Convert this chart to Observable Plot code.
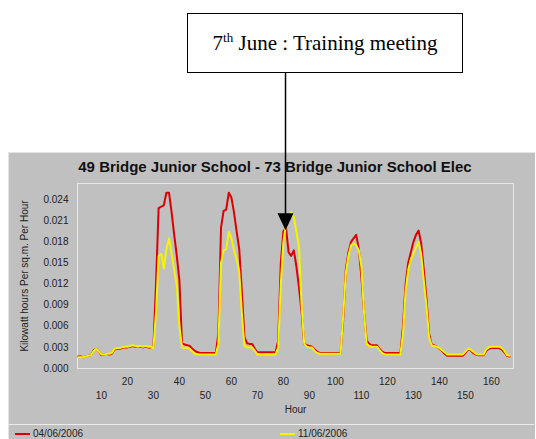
<!DOCTYPE html>
<html><head><meta charset="utf-8">
<script src="https://cdn.jsdelivr.net/npm/d3@7"></script>
<script src="https://cdn.jsdelivr.net/npm/@observablehq/plot@0.6"></script>
<style>
html,body{margin:0;padding:0;background:#fff;}
#wrap{position:relative;width:536px;height:439px;overflow:hidden;font-family:"Liberation Sans",Arial,sans-serif;}
#panel{position:absolute;left:8px;top:152px;width:526px;height:290px;background:#c0c0c0;border-top:1px solid #e4e4e4;border-left:1px solid #e4e4e4;}
#legsep{position:absolute;left:8px;top:424px;width:526px;height:1px;background:#ececec;}
#title{position:absolute;left:8px;width:534px;top:158px;text-align:center;font-size:15px;font-weight:bold;color:#111;}
#note{position:absolute;left:187px;top:13px;width:274px;height:58px;border:1.5px solid #000;background:#fff;font-family:"Liberation Serif","Times New Roman",serif;font-size:21px;line-height:58px;text-align:center;color:#000;}
#note sup{font-size:13px;vertical-align:0.6em;line-height:0;}
.leg{position:absolute;top:428px;font-size:10px;color:#222;}
.sw{position:absolute;top:433px;width:15px;height:2px;}
#chart{position:absolute;left:0;top:0;}
#over{position:absolute;left:0;top:0;pointer-events:none;}
</style></head>
<body>
<div id="wrap">
  <div id="panel"></div>
  <div id="legsep"></div>
  <div id="title"></div>
  <div id="note">7<sup>th</sup> June : Training meeting</div>
  <div id="chart"></div>
  <div class="sw" style="left:15px;background:#dd0000"></div>
  <div class="leg" style="left:33px" id="leg1"></div>
  <div class="sw" style="left:280px;background:#f4f400"></div>
  <div class="leg" style="left:298px" id="leg2"></div>
  <svg id="over" width="536" height="439"></svg>
</div>
<script>
const titleText = "49 Bridge Junior School - 73 Bridge Junior School Elec";
const yLabel = "Kilowatt hours Per sq.m. Per Hour";
const xLabel = "Hour";
const seriesNames = ["04/06/2006", "11/06/2006"];
const seriesColors = ["#dd0000", "#f4f400"];
const yTicks = [0, 0.003, 0.006, 0.009, 0.012, 0.015, 0.018, 0.021, 0.024];
const xTicksEven = [20, 40, 60, 80, 100, 120, 140, 160];
const xTicksOdd = [10, 30, 50, 70, 90, 110, 130, 150];
const noteHour = 81;
const noteValue = 0.0196;

const hours = [1,2,3,4,5,6,7,8,9,10,11,12,13,14,15,16,17,18,19,20,21,22,23,24,25,26,27,28,29,30,
31,32,33,34,35,36,37,38,39,40,41,42,43,44,45,46,47,48,54,
55,56,57,58,59,60,61,62,63,64,65,66,67,68,69,70,77,
78,79,80,81,82,83,84,85,86,87,88,89,90,91,92,93,94,102,
103,104,105,106,107,108,109,110,111,112,113,114,116,117,118,119,125,
126,127,128,129,130,131,132,133,134,135,136,137,138,139,140,141,142,143,149,
150,151,152,153,154,155,157,158,159,160,163,164,165,166,167];

const red = [0.0017,0.0017,0.0016,0.0017,0.0018,0.0019,0.0026,0.0028,0.0024,0.0019,0.0020,0.0021,0.0020,0.0021,0.0027,0.0028,0.0028,0.0029,0.0030,0.0030,0.0031,0.0032,0.0031,0.0032,0.0031,0.0030,0.0031,0.0030,0.0030,0.0031,
0.0120,0.0228,0.0230,0.0232,0.0250,0.0250,0.0222,0.0190,0.0160,0.0125,0.0036,0.0034,0.0033,0.0032,0.0028,0.0025,0.0023,0.0022,0.0022,
0.0050,0.0200,0.0224,0.0226,0.0250,0.0243,0.0222,0.0195,0.0170,0.0110,0.0045,0.0036,0.0035,0.0035,0.0028,0.0023,0.0023,
0.0040,0.0150,0.0195,0.0200,0.0165,0.0160,0.0168,0.0145,0.0115,0.0080,0.0035,0.0033,0.0032,0.0031,0.0027,0.0024,0.0022,0.0022,
0.0070,0.0140,0.0165,0.0180,0.0185,0.0190,0.0170,0.0130,0.0080,0.0040,0.0035,0.0033,0.0033,0.0028,0.0024,0.0022,0.0022,
0.0060,0.0120,0.0150,0.0165,0.0180,0.0190,0.0196,0.0178,0.0140,0.0100,0.0050,0.0034,0.0033,0.0031,0.0028,0.0025,0.0021,0.0018,0.0018,
0.0022,0.0027,0.0026,0.0022,0.0020,0.0019,0.0019,0.0025,0.0028,0.0029,0.0029,0.0027,0.0023,0.0018,0.0017];

const yellow = [0.0016,0.0016,0.0016,0.0017,0.0018,0.0019,0.0025,0.0028,0.0024,0.0020,0.0020,0.0021,0.0021,0.0022,0.0028,0.0029,0.0029,0.0030,0.0031,0.0031,0.0032,0.0033,0.0032,0.0032,0.0032,0.0031,0.0032,0.0031,0.0031,0.0029,
0.0080,0.0160,0.0163,0.0142,0.0170,0.0185,0.0163,0.0140,0.0118,0.0060,0.0030,0.0029,0.0030,0.0028,0.0024,0.0021,0.0020,0.0020,0.0020,
0.0035,0.0150,0.0168,0.0170,0.0194,0.0185,0.0168,0.0155,0.0138,0.0080,0.0032,0.0030,0.0030,0.0030,0.0025,0.0020,0.0020,
0.0030,0.0120,0.0180,0.0205,0.0215,0.0222,0.0215,0.0195,0.0172,0.0090,0.0035,0.0031,0.0030,0.0030,0.0025,0.0022,0.0021,0.0021,
0.0075,0.0135,0.0160,0.0175,0.0178,0.0175,0.0168,0.0145,0.0080,0.0035,0.0032,0.0031,0.0031,0.0026,0.0022,0.0020,0.0020,
0.0050,0.0110,0.0140,0.0155,0.0163,0.0172,0.0180,0.0162,0.0125,0.0090,0.0045,0.0033,0.0032,0.0031,0.0029,0.0026,0.0023,0.0020,0.0020,
0.0024,0.0028,0.0027,0.0024,0.0021,0.0020,0.0020,0.0027,0.0030,0.0031,0.0031,0.0029,0.0025,0.0019,0.0018];

document.getElementById("title").textContent = titleText;
document.getElementById("leg1").textContent = seriesNames[0];
document.getElementById("leg2").textContent = seriesNames[1];

const rows = [];
[red, yellow].forEach((vals, i) => {
  hours.forEach((h, j) => rows.push({hour: h, value: vals[j], series: seriesNames[i]}));
});

const plot = Plot.plot({
  width: 536, height: 439,
  marginTop: 183, marginBottom: 71, marginLeft: 77, marginRight: 23,
  style: {background: "transparent", fontFamily: "Liberation Sans, Arial, sans-serif", fontSize: "10px", color: "#222"},
  x: {domain: [0.8, 168.5]},
  y: {domain: [0, 0.0263]},
  color: {domain: seriesNames, range: seriesColors},
  marks: [
    Plot.frame({stroke: "#e8e8e8", strokeWidth: 1}),
    Plot.axisY({ticks: yTicks, tickFormat: d3.format(".3f"), tickSize: 0, tickPadding: 9,
      label: yLabel, labelAnchor: "center", labelOffset: 57, labelArrow: "none"}),
    Plot.axisX({ticks: xTicksEven, tickSize: 0, tickPadding: 9, label: null}),
    Plot.axisX({ticks: xTicksOdd, tickSize: 0, tickPadding: 23, label: null}),
    Plot.text([xLabel], {frameAnchor: "bottom", dy: 44, text: d => d, fontSize: 10}),
    Plot.lineY(rows, {x: "hour", y: "value", stroke: "series", strokeWidth: 2, curve: "linear"})
  ]
});
document.getElementById("chart").appendChild(plot);

// annotation arrow, tip anchored through the plot's scales
const sx = plot.scale("x"), sy = plot.scale("y");
const tx = sx.apply(noteHour), ty = sy.apply(noteValue);
const svg = d3.select("#over");
svg.append("line").attr("x1", tx).attr("x2", tx).attr("y1", 73).attr("y2", ty - 14)
  .attr("stroke", "#000").attr("stroke-width", 1.5);
svg.append("path").attr("d", `M${tx - 8},${ty - 17} L${tx + 8},${ty - 17} L${tx},${ty} Z`).attr("fill", "#000");
</script>
</body></html>
